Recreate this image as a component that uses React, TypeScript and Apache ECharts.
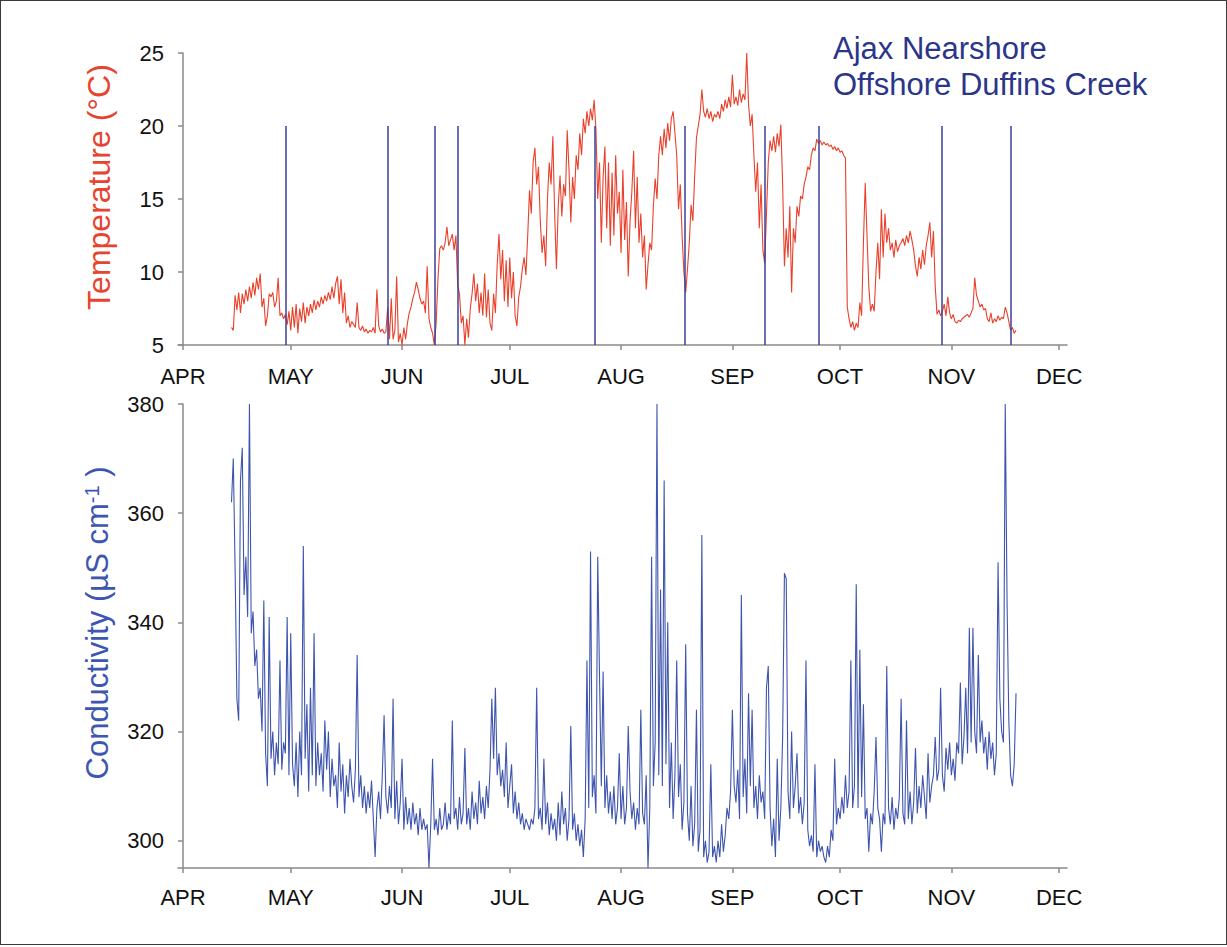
import React, { useEffect, useRef } from "react";
import * as echarts from "echarts";

// Month tick positions (days since 1 April) and their labels
const MONTH_STARTS = [0, 30, 61, 91, 122, 153, 183, 214, 244];
const MONTH_LABELS = ["APR", "MAY", "JUN", "JUL", "AUG", "SEP", "OCT", "NOV", "DEC"];

// Records: first sample day (days since 1 April) and spacing in days
const SAMPLE_START = 13.5;
const SAMPLE_STEP = 0.5;

// Water temperature (°C)
const TEMPERATURE = [
  6.2, 6.0, 8.4, 7.4, 8.6, 7.2, 8.5, 7.8, 8.8, 8.0,
  9.0, 8.2, 9.3, 8.4, 9.6, 8.8, 9.9, 7.6, 8.2, 6.3,
  7.0, 8.5, 8.3, 8.6, 7.6, 8.0, 9.6, 7.0, 7.2, 6.8,
  7.1, 6.4, 7.3, 6.0, 7.6, 6.2, 7.8, 5.8, 7.5, 6.6,
  7.9, 6.5, 7.6, 7.0, 7.8, 7.2, 8.1, 7.4, 8.0, 7.6,
  8.3, 7.8, 8.4, 8.0, 8.6, 8.1, 9.0, 8.2, 9.2, 9.7,
  7.8, 9.5, 7.2, 8.6, 6.5, 7.0, 6.2, 6.6, 6.4, 6.2,
  7.9, 6.2, 6.0, 6.3, 5.9, 6.1, 5.8, 6.0, 5.9, 6.2,
  5.8, 8.8, 6.3, 5.9, 6.1, 5.8, 5.9, 7.6, 5.4, 8.2,
  5.4, 6.0, 9.7, 5.2, 5.8, 5.0, 6.2, 5.4, 6.5, 7.2,
  7.6, 8.2, 8.6, 9.3, 8.8, 8.2, 7.8, 8.0, 7.2, 10.4,
  6.8, 6.2, 5.8, 5.0, 6.5, 9.5, 11.6, 11.8, 11.5, 12.0,
  13.1, 11.8, 12.2, 12.6, 11.5, 12.5, 9.1, 8.5, 6.5, 7.0,
  5.0, 6.8, 5.5, 7.5, 8.5, 9.9, 8.0, 9.2, 7.2, 8.6,
  7.0, 9.9, 6.9, 8.8, 6.5, 6.0, 8.5, 7.2, 10.5, 12.6,
  9.5, 11.5, 8.0, 10.8, 7.6, 11.0, 8.2, 10.0, 7.0, 6.3,
  8.3, 9.0, 10.2, 11.0, 9.8, 12.5, 15.6, 14.0, 17.5, 18.5,
  16.0, 17.2, 13.5, 11.3, 12.5, 10.4, 15.0, 17.5, 16.0, 19.3,
  14.0, 10.2, 14.5, 16.6, 13.8, 16.0, 15.2, 19.7, 17.0, 13.4,
  16.5, 15.0, 18.0, 17.0, 19.5, 18.0, 20.5, 19.5, 21.0, 20.0,
  21.2, 20.4, 21.8, 19.8, 15.0, 17.5, 12.0, 16.5, 18.6, 13.0,
  17.5, 11.8, 16.8, 12.5, 18.0, 14.0, 15.5, 11.3, 17.0, 12.2,
  14.8, 9.7, 13.5, 15.5, 18.3, 13.0, 16.5, 12.0, 14.0, 11.0,
  12.5, 8.8, 10.5, 12.0, 11.5, 14.5, 16.4, 15.0, 18.0, 19.3,
  18.0, 19.8, 18.5, 20.2, 19.0, 20.5, 21.0, 19.5, 18.0, 14.3,
  16.0, 12.5, 10.0, 8.6, 10.2, 12.0, 14.6, 13.5, 16.6, 19.2,
  20.0, 20.8, 22.5, 21.0, 20.6, 21.2, 20.5, 21.0, 20.3, 20.8,
  20.6, 21.0, 20.5, 21.5, 21.0, 21.8, 21.2, 22.0, 21.3, 23.5,
  21.5, 22.0, 21.4, 22.5, 21.6, 22.2, 21.8, 25.0, 21.5, 20.0,
  20.8, 18.0, 15.5, 17.5, 13.0, 16.0, 11.5, 10.6, 14.0, 17.5,
  19.0, 18.3, 19.3, 18.2, 19.5, 18.6, 20.1, 16.0, 10.4, 13.0,
  11.0, 14.5, 8.6, 13.0, 12.0, 14.5, 13.8, 15.2, 15.0, 16.0,
  16.5, 17.2, 17.0, 18.0, 18.5, 18.3, 19.1, 18.8, 19.0, 18.7,
  18.9, 18.7, 18.8, 18.6, 18.7, 18.4, 18.6, 18.3, 18.5, 18.2,
  18.3, 18.0, 17.8, 7.6, 6.8, 6.2, 6.6, 6.0, 6.5, 6.2,
  7.9, 7.0, 12.0, 16.1, 12.5, 9.0, 7.3, 7.8, 7.3, 10.0,
  12.0, 9.5, 14.3, 11.0, 14.0, 12.0, 13.0, 11.5, 12.0, 11.0,
  12.2, 11.4, 11.8, 12.0, 12.3, 11.8, 12.5, 12.0, 12.8, 12.2,
  11.5, 10.4, 9.7, 11.0, 10.2, 11.5, 10.5, 11.8, 12.5, 13.4,
  11.0, 12.8, 9.0, 7.1, 7.4, 7.0, 7.3, 7.8, 7.0, 8.3,
  7.2, 6.8, 7.1, 6.6, 6.5, 6.7, 6.6, 6.8, 6.9, 7.0,
  7.1, 6.9, 7.2, 7.5, 9.6, 8.4, 8.0, 7.6, 7.8, 7.4,
  7.5, 6.8, 6.6, 7.2, 6.5, 6.8, 6.6, 7.0, 6.7, 6.9,
  6.8, 7.6, 7.2, 6.6, 6.0, 6.2, 5.8, 6.0,
];

// Conductivity (µS/cm)
const CONDUCTIVITY = [
  362, 370, 350, 326, 322, 366, 372, 345, 352, 341,
  380, 338, 342, 332, 335, 326, 328, 320, 344, 316,
  310, 341, 315, 320, 312, 318, 314, 333, 313, 318,
  316, 341, 312, 338, 314, 310, 318, 308, 320, 312,
  354, 315, 325, 309, 328, 312, 338, 310, 318, 312,
  316, 309, 322, 313, 320, 308, 315, 310, 312, 306,
  318, 309, 314, 305, 312, 308, 315, 310, 307, 313,
  334, 308, 312, 306, 310, 305, 309, 306, 311, 304,
  297, 306, 309, 304, 312, 323, 308, 305, 310, 306,
  326, 304, 311, 303, 307, 315, 302, 308, 303, 306,
  302, 307, 303, 305, 301, 306, 302, 304, 302, 303,
  295, 303, 315, 302, 304, 301, 306, 302, 303, 307,
  302, 305, 303, 322, 304, 306, 302, 308, 303, 305,
  317, 303, 306, 302, 309, 304, 307, 303, 311, 305,
  308, 304, 310, 306, 313, 326, 315, 328, 312, 316,
  310, 313, 308, 318, 306, 310, 314, 305, 309, 304,
  307, 303, 305, 302, 304, 303, 302, 304, 303, 306,
  328, 304, 306, 302, 315, 303, 307, 301, 305, 302,
  304, 300, 307, 301, 309, 303, 306, 300, 304, 321,
  302, 305, 300, 303, 299, 302, 297, 304, 333, 306,
  353, 308, 312, 305, 352, 330, 310, 331, 306, 312,
  305, 309, 304, 310, 303, 306, 316, 304, 310, 303,
  306, 321, 309, 304, 307, 302, 306, 303, 324, 305,
  303, 312, 295, 306, 352, 310, 318, 380, 312, 346,
  310, 366, 314, 340, 306, 318, 304, 312, 333, 308,
  314, 302, 307, 336, 305, 300, 310, 299, 303, 324,
  298, 302, 356, 297, 300, 296, 298, 314, 297, 299,
  296, 300, 297, 303, 298, 301, 306, 304, 309, 324,
  310, 307, 313, 304, 345, 308, 315, 305, 327, 310,
  324, 306, 310, 304, 312, 307, 309, 304, 328, 332,
  306, 299, 304, 297, 315, 300, 306, 319, 349, 348,
  309, 304, 320, 306, 310, 316, 305, 308, 303, 307,
  333, 302, 299, 301, 298, 314, 297, 300, 298, 299,
  297, 296, 299, 297, 302, 300, 315, 303, 306, 304,
  308, 305, 312, 306, 309, 333, 306, 310, 347, 306,
  335, 308, 325, 304, 306, 298, 305, 303, 309, 319,
  306, 304, 298, 305, 303, 332, 306, 303, 308, 302,
  306, 304, 308, 326, 305, 303, 322, 304, 309, 303,
  307, 317, 305, 310, 306, 312, 308, 304, 316, 307,
  310, 312, 319, 311, 313, 328, 312, 309, 317, 313,
  318, 312, 315, 311, 318, 316, 329, 314, 319, 328,
  316, 339, 318, 339, 320, 316, 334, 318, 322, 316,
  319, 313, 320, 315, 318, 312, 316, 351, 326, 320,
  318, 380, 344, 322, 312, 310, 314, 327,
];

// Vertical event lines in the temperature panel (days since 1 April)
const EVENT_DAYS = [28.7, 57.1, 70.2, 76.5, 114.8, 139.8, 162.1, 177.1, 211.4, 230.6];
const EVENT_RANGE = [5, 20];

const TEMP_RANGE = [5, 25];
const COND_RANGE = [295, 380];
const COND_TICKS = [300, 320, 340, 360, 380];

const FONT = "'Liberation Sans', Arial, Helvetica, sans-serif";
const AXIS_GREY = "#8a8a8a";

function toPairs(values: number[]) {
  return values.map((v, i) => [SAMPLE_START + i * SAMPLE_STEP, v]);
}

function monthLabel(v: number) {
  const i = MONTH_STARTS.indexOf(v);
  return i >= 0 ? MONTH_LABELS[i] : "";
}

function xAxis(gridIndex: number, margin: number) {
  return {
    type: "value",
    gridIndex,
    min: -1.4,
    max: 246.2,
    axisLine: { show: true, onZero: false, lineStyle: { color: AXIS_GREY, width: 1.5 } },
    axisTick: {
      show: true,
      customValues: MONTH_STARTS,
      length: 5,
      lineStyle: { color: AXIS_GREY, width: 1.5 },
    },
    axisLabel: {
      customValues: MONTH_STARTS,
      formatter: monthLabel,
      fontSize: 22,
      color: "#111111",
      fontFamily: FONT,
      margin,
    },
    splitLine: { show: false },
  };
}

export default function App() {
  const ref = useRef<HTMLDivElement>(null);

  useEffect(() => {
    if (!ref.current) return;
    const chart = echarts.init(ref.current, null, { renderer: "svg" });
    const option = {
      animation: false,
      backgroundColor: "#ffffff",
      grid: [
        { left: 178, top: 53, width: 889, height: 292 },
        { left: 178, top: 404, width: 889, height: 464 },
      ],
      xAxis: [xAxis(0, 20), xAxis(1, 18)],
      yAxis: [
        {
          type: "value",
          gridIndex: 0,
          min: TEMP_RANGE[0],
          max: TEMP_RANGE[1],
          interval: 5,
          axisLine: { show: true, lineStyle: { color: AXIS_GREY, width: 1.5 } },
          axisTick: { show: true, length: 5, lineStyle: { color: AXIS_GREY, width: 1.5 } },
          axisLabel: { fontSize: 22, color: "#111111", fontFamily: FONT, margin: 14 },
          splitLine: { show: false },
        },
        {
          type: "value",
          gridIndex: 1,
          min: COND_RANGE[0],
          max: COND_RANGE[1],
          axisLine: { show: true, lineStyle: { color: AXIS_GREY, width: 1.5 } },
          axisTick: {
            show: true,
            customValues: COND_TICKS,
            length: 5,
            lineStyle: { color: AXIS_GREY, width: 1.5 },
          },
          axisLabel: {
            customValues: COND_TICKS,
            fontSize: 22,
            color: "#111111",
            fontFamily: FONT,
            margin: 14,
          },
          splitLine: { show: false },
        },
      ],
      series: [
        {
          name: "Temperature",
          type: "line",
          xAxisIndex: 0,
          yAxisIndex: 0,
          data: toPairs(TEMPERATURE),
          showSymbol: false,
          symbol: "none",
          silent: true,
          lineStyle: { color: "#e8412b", width: 1.1 },
          emphasis: { disabled: true },
          markLine: {
            silent: true,
            symbol: ["none", "none"],
            label: { show: false },
            lineStyle: { color: "#3a3f99", width: 1.5, type: "solid" },
            emphasis: { disabled: true },
            data: EVENT_DAYS.map((d) => [
              { coord: [d, EVENT_RANGE[0]] },
              { coord: [d, EVENT_RANGE[1]] },
            ]),
          },
        },
        {
          name: "Conductivity",
          type: "line",
          xAxisIndex: 1,
          yAxisIndex: 1,
          data: toPairs(CONDUCTIVITY),
          showSymbol: false,
          symbol: "none",
          silent: true,
          lineStyle: { color: "#3f55ad", width: 1.1 },
          emphasis: { disabled: true },
        },
      ],
      graphic: [
        {
          type: "text",
          x: 99,
          y: 187,
          rotation: Math.PI / 2,
          style: {
            text: "Temperature (°C)",
            fontSize: 32,
            fontFamily: FONT,
            fill: "#e8432e",
            align: "center",
            verticalAlign: "middle",
          },
        },
        {
          type: "text",
          x: 97,
          y: 623,
          rotation: Math.PI / 2,
          style: {
            text: "{a|Conductivity (\u00B5S cm}{s|-1}{a| )}",
            fontFamily: FONT,
            align: "center",
            verticalAlign: "middle",
            rich: {
              a: { fontSize: 31, fontFamily: FONT, fill: "#3c56b2" },
              s: { fontSize: 20, fontFamily: FONT, fill: "#3c56b2", verticalAlign: "top" },
            },
          },
        },
        {
          type: "text",
          x: 833,
          y: 48,
          style: {
            text: "Ajax Nearshore",
            fontSize: 31,
            fontFamily: FONT,
            fill: "#2b3589",
            align: "left",
            verticalAlign: "middle",
          },
        },
        {
          type: "text",
          x: 833,
          y: 84,
          style: {
            text: "Offshore Duffins Creek",
            fontSize: 31,
            fontFamily: FONT,
            fill: "#2b3589",
            align: "left",
            verticalAlign: "middle",
          },
        },
      ],
    };
    chart.setOption(option as any);
    return () => chart.dispose();
  }, []);

  return (
    <div
      style={{
        position: "fixed",
        left: 0,
        top: 0,
        width: 1227,
        height: 947,
        background: "#ffffff",
      }}
    >
      <div ref={ref} style={{ position: "absolute", left: 0, top: 0, width: 1227, height: 947 }} />
      <div
        style={{
          position: "absolute",
          left: 0,
          top: 0,
          width: 1227,
          height: 945,
          boxSizing: "border-box",
          border: "1.5px solid #3a3a3a",
          pointerEvents: "none",
        }}
      />
    </div>
  );
}
